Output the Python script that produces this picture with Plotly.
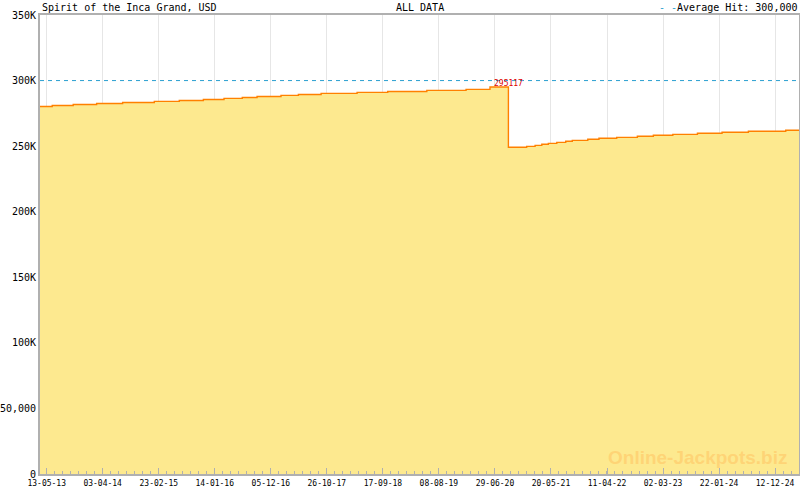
import plotly.graph_objects as go

# step data: date each jackpot level starts, value (USD)
dates = [
    "2013-04-04", "2013-06-14", "2013-10-14", "2014-02-27", "2014-07-28",
    "2015-01-28", "2015-06-22", "2015-11-09", "2016-03-08", "2016-06-22",
    "2016-09-16", "2017-02-02", "2017-05-14", "2017-09-23", "2018-04-20",
    "2018-10-15", "2019-05-30", "2020-01-13", "2020-05-31", "2020-09-15",
    "2020-12-30", "2021-02-17", "2021-03-28", "2021-05-05", "2021-06-23",
    "2021-08-14", "2021-09-21", "2021-12-20", "2022-02-23", "2022-06-06",
    "2022-10-04", "2023-01-05", "2023-04-28", "2023-09-18", "2024-02-08",
    "2024-07-10", "2025-02-12", "2025-04-30",
]
values = [
    280200, 281000, 281800, 282500, 283300,
    284100, 284800, 285600, 286400, 287100,
    287900, 288700, 289400, 290200, 291000,
    291700, 292500, 293300, 295117, 249100,
    249800, 250600, 251400, 252100, 252900,
    253700, 254400, 255200, 256000, 256700,
    257500, 258300, 259000, 259800, 260600,
    261300, 262100, 262100,
]
peak_date = "2020-09-15"
peak_value = 295117
average_hit = 300000

x_tickvals = [
    "2013-05-13", "2014-04-03", "2015-02-23", "2016-01-14", "2016-12-05",
    "2017-10-26", "2018-09-17", "2019-08-08", "2020-06-29", "2021-05-20",
    "2022-04-11", "2023-03-02", "2024-01-22", "2024-12-12",
]
x_ticktext = [
    "13-05-13", "03-04-14", "23-02-15", "14-01-16", "05-12-16",
    "26-10-17", "17-09-18", "08-08-19", "29-06-20", "20-05-21",
    "11-04-22", "02-03-23", "22-01-24", "12-12-24",
]
y_tickvals = [0, 50000, 100000, 150000, 200000, 250000, 300000, 350000]
y_ticktext = ["0", "50,000", "100K", "150K", "200K", "250K", "300K", "350K"]

mono = "DejaVu Sans Mono"
day_ms = 86400000

fig = go.Figure()
fig.add_trace(go.Scatter(
    x=dates, y=values, mode="lines", line_shape="hv",
    line=dict(color="#ff8000", width=1.4),
    fill="tozeroy", fillcolor="#fde98f",
    showlegend=False, hoverinfo="skip",
))
fig.add_trace(go.Scatter(
    x=[dates[0], dates[-1]], y=[average_hit, average_hit], mode="lines",
    line=dict(color="#2a9fd0", width=1, dash="4px,4px"),
    showlegend=False, hoverinfo="skip",
))

fig.add_annotation(
    x=peak_date, y=peak_value, text=str(peak_value), showarrow=False,
    yshift=3, font=dict(family=mono, size=8, color="#dd0000"),
)
fig.add_annotation(
    xref="paper", yref="paper", x=0, y=1, yshift=0, xanchor="left", yanchor="bottom",
    text="Spirit of the Inca Grand, USD", showarrow=False,
    font=dict(family=mono, size=10, color="#000"),
)
fig.add_annotation(
    xref="paper", yref="paper", x=0.5, y=1, yshift=0, xanchor="center", yanchor="bottom",
    text="ALL DATA", showarrow=False,
    font=dict(family=mono, size=10, color="#000"),
)
fig.add_annotation(
    xref="paper", yref="paper", x=1, y=1, yshift=0, xanchor="right", yanchor="bottom",
    text="<span style='color:#2a9fd0'>- -</span>Average Hit: 300,000", showarrow=False,
    font=dict(family=mono, size=10, color="#000"),
)
fig.add_annotation(
    xref="paper", yref="paper", x=0.987, y=0.035, xanchor="right", yanchor="middle",
    text="<b>Online-Jackpots.biz</b>", showarrow=False,
    font=dict(family="Liberation Sans", size=19, color="rgba(255,205,110,0.75)"),
)

fig.update_layout(
    width=800, height=490,
    margin=dict(l=40, r=1, t=15, b=16),
    paper_bgcolor="white", plot_bgcolor="white",
    showlegend=False,
    xaxis=dict(
        type="date", range=[dates[0], dates[-1]],
        tickmode="array", tickvals=x_tickvals, ticktext=x_ticktext,
        tickfont=dict(family=mono, size=8, color="#000"),
        ticks="inside", ticklen=6, tickcolor="#b0b0b0",
        showgrid=True, gridcolor="#e6e6e6", gridwidth=1,
        showline=True, linecolor="#b0b0b0", linewidth=2, mirror=True,
        minor=dict(ticks="inside", ticklen=3, tickcolor="#b0b0b0",
                   tick0="2013-05-13", dtick=325.46 / 7 * day_ms, showgrid=False),
        automargin=False, zeroline=False,
    ),
    yaxis=dict(
        range=[0, 350000],
        tickmode="array", tickvals=y_tickvals, ticktext=y_ticktext,
        tickfont=dict(family=mono, size=10, color="#000"),
        ticks="", showgrid=False,
        showline=True, linecolor="#b0b0b0", linewidth=2, mirror=True,
        automargin=False, zeroline=False,
    ),
)

fig.write_html(
    "out.html",
    config={"displayModeBar": False},
    post_script="document.body.style.margin='0';",
)
